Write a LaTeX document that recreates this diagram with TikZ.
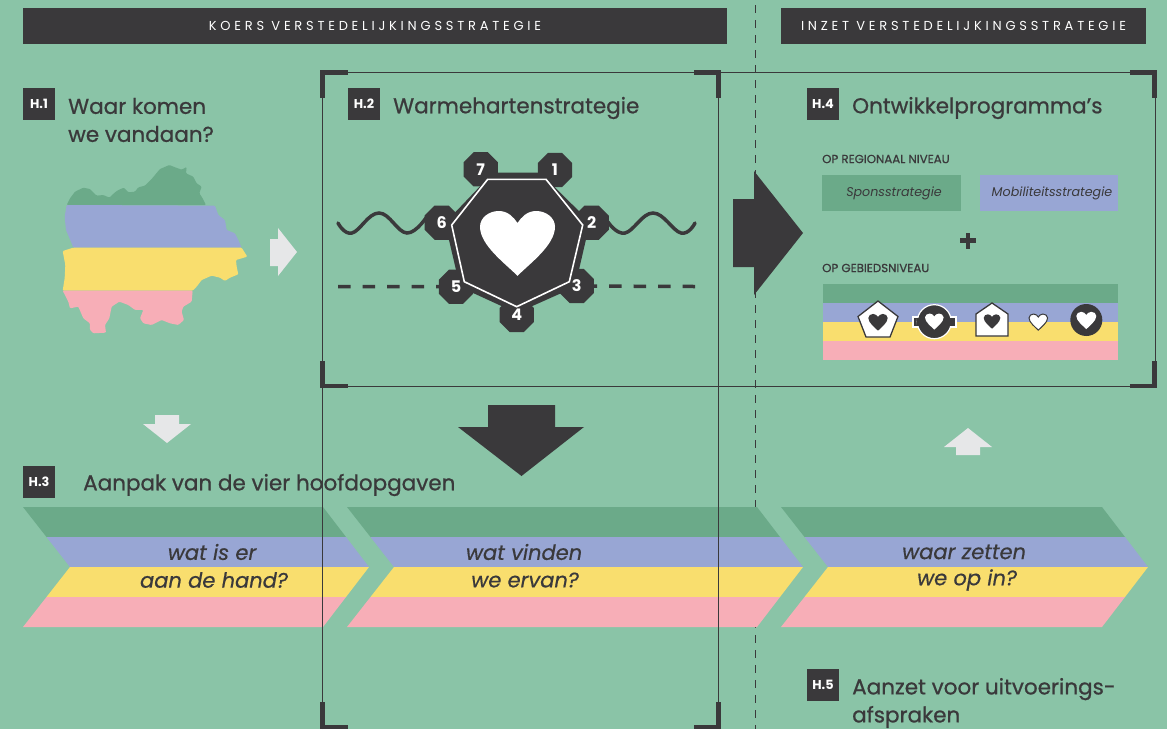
\documentclass[tikz,border=0pt]{standalone}
\usepackage{fontspec}
\setmainfont{Poppins}
\newfontfamily\spaced[LetterSpace=29]{Poppins}
\newfontfamily\medf[UprightFeatures={FakeBold=0.8},ItalicFeatures={FakeBold=0.5}]{Poppins}
\usetikzlibrary{shapes.geometric}
\definecolor{bgc}{HTML}{8AC4A7}
\definecolor{ink}{HTML}{3A393B}
\definecolor{bandg}{HTML}{6BAA89}
\definecolor{bandb}{HTML}{98A6D4}
\definecolor{bandy}{HTML}{F9DE6E}
\definecolor{bandp}{HTML}{F7AEB7}
\definecolor{pale}{HTML}{E6E7E8}
\tikzset{
  barbox/.style={fill=ink,text=white,minimum height=36pt,inner sep=0pt,font=\fontsize{13}{15}\selectfont\spaced},
  badge/.style={fill=ink,text=white,minimum width=32pt,minimum height=32pt,inner sep=0pt,font=\fontsize{12.8}{14}\selectfont\bfseries},
  heading/.style={text=ink,anchor=west,inner sep=0pt,align=left,font=\fontsize{21.5}{28}\selectfont\medf},
  chevlabel/.style={text=ink,inner sep=0pt,font=\fontsize{21}{24}\selectfont\medf\itshape},
  sublabel/.style={text=ink,anchor=west,inner sep=0pt,font=\fontsize{11.8}{13}\selectfont\medf},
  stratbox/.style={minimum width=138pt,minimum height=36pt,inner sep=0pt,text=ink,font=\fontsize{12.7}{14}\selectfont\itshape},
  gearnum/.style={regular polygon,regular polygon sides=8,fill=ink,text=white,minimum size=37pt,inner sep=0pt,font=\fontsize{16}{18}\selectfont\bfseries},
  frameline/.style={draw=ink,line width=1pt},
  cornermark/.style={draw=ink,line width=4.5pt,line cap=butt,miter limit=10},
  bigwave/.style={draw=ink,line width=3.5pt,line cap=round},
  bigdash/.style={draw=ink,line width=3.5pt,dash pattern=on 12.5pt off 12pt},
}
\newcommand{\heartat}[4]{%
  \path[#4,shift={(#1,#2)},x=#3pt,y=-#3pt]
    (0,1.41) .. controls (-0.3,1.1) and (-1,0.6) .. (-1,0.1)
    .. controls (-1,-0.15) and (-0.75,-0.32) .. (-0.5,-0.32)
    .. controls (-0.25,-0.32) and (-0.1,-0.15) .. (0,0)
    .. controls (0.1,-0.15) and (0.25,-0.32) .. (0.5,-0.32)
    .. controls (0.75,-0.32) and (1,-0.15) .. (1,0.1)
    .. controls (1,0.6) and (0.3,1.1) .. (0,1.41) -- cycle;}
\newcommand{\chevron}[4]{% left, notch, top right, tip
  \fill[bandg] (#1,507) -- (#3,507) -- ({#3+(#4-#3)/2},537) -- ({#1+(#2-#1)/2},537) -- cycle;
  \fill[bandb] ({#1+(#2-#1)/2},537) -- ({#3+(#4-#3)/2},537) -- (#4,567) -- (#2,567) -- cycle;
  \fill[bandy] (#2,567) -- (#4,567) -- ({#3+(#4-#3)/2},597) -- ({#1+(#2-#1)/2},597) -- cycle;
  \fill[bandp] ({#1+(#2-#1)/2},597) -- ({#3+(#4-#3)/2},597) -- (#3,627) -- (#1,627) -- cycle;}
\begin{document}
\begin{tikzpicture}[x=1pt,y=-1pt]
\path[use as bounding box,fill=bgc] (0,0) rectangle (1167,729);
% divider
\draw[ink,line width=1.8pt,dash pattern=on 8pt off 7pt] (755.5,5) -- (755.5,729);
% header bars
\node[barbox,minimum width=704pt] (barL) at (375,26) {KOERS VERSTEDELIJKINGSSTRATEGIE};
\node[barbox,minimum width=365pt] (barR) at (963.5,26) {INZET VERSTEDELIJKINGSSTRATEGIE};
% chevrons
\chevron{23}{70}{323}{369}
\chevron{347}{394}{757}{803}
\chevron{781}{828}{1102}{1148}
\node[chevlabel] (c1a) at (212,552) {wat is er};
\node[chevlabel] (c1b) at (214,580) {aan de hand?};
\node[chevlabel] (c2a) at (524,552) {wat vinden};
\node[chevlabel] (c2b) at (525,580) {we ervan?};
\node[chevlabel] (c3a) at (964,552) {waar zetten};
\node[chevlabel] (c3b) at (967,580) {we op in?};
% frame
\draw[frameline] (322,729) -- (322,72) -- (1155,72) -- (1155,386) -- (322,386);
\draw[frameline] (718,72) -- (718,729);
\foreach \cx/\cy/\sx/\sy in {322.5/72.5/1/1,718.5/72.5/-1/1,1154.5/72.5/-1/1,322.5/386/1/-1,1154.5/386/-1/-1,322.5/727/1/-1,718.5/727/-1/-1}{
  \draw[cornermark] ({\cx},{\cy+\sy*25}) -- (\cx,\cy) -- ({\cx+\sx*25},\cy);
}
% badges and headings
\node[badge] (b1) at (39,104) {H.1};
\node[badge] (b2) at (364,104) {H.2};
\node[badge] (b3) at (39,482) {H.3};
\node[badge] (b4) at (823,104) {H.4};
\node[badge] (b5) at (823,685) {H.5};
\node[heading] (h1) at (68,120) {Waar komen\\we vandaan?};
\node[heading] (h2) at (393,108) {Warmehartenstrategie};
\node[heading] (h3) at (83,485) {Aanpak van de vier hoofdopgaven};
\node[heading] (h4) at (852,108) {Ontwikkelprogramma’s};
\node[heading] (h5) at (852,703) {Aanzet voor uitvoerings-\\afspraken};
% map
\begin{scope}[shift={(50,155)},x=0.3333pt,y=-0.3333pt,rounded corners=1pt]
\fill[bandg] (50,150) -- (60,130) -- (75,110) -- (100,98) -- (120,102) -- (140,122) -- (160,120) -- (178,128) -- (195,112) -- (205,105) -- (222,98) -- (235,112) -- (255,110) -- (265,97) -- (285,92) -- (305,72) -- (330,42) -- (358,30) -- (378,38) -- (395,44) -- (410,36) -- (408,55) -- (430,65) -- (440,85) -- (455,95) -- (448,115) -- (458,130) -- (468,150) -- cycle;
\fill[bandb] (50,150) -- (495,152) -- (505,180) -- (525,195) -- (530,225) -- (555,235) -- (565,255) -- (575,278) -- (70,278) -- (62,258) -- (48,225) -- (44,185) -- cycle;
\fill[bandy] (38,288) -- (70,278) -- (575,278) -- (592,305) -- (558,315) -- (560,335) -- (565,358) -- (540,368) -- (525,378) -- (510,368) -- (485,362) -- (455,375) -- (440,395) -- (428,407) -- (38,407) -- (44,370) -- (46,330) -- cycle;
\fill[bandp] (38,407) -- (428,407) -- (425,440) -- (400,455) -- (395,470) -- (402,495) -- (385,510) -- (360,505) -- (335,495) -- (305,510) -- (280,505) -- (270,490) -- (280,465) -- (255,465) -- (235,450) -- (208,440) -- (185,455) -- (178,490) -- (165,510) -- (168,533) -- (130,535) -- (120,525) -- (120,505) -- (100,490) -- (85,455) -- (60,460) -- (55,440) -- cycle;
\end{scope}
% pale arrows
\fill[pale] (270,239) -- (278,239) -- (278,228) -- (297,252) -- (278,276) -- (278,266) -- (270,266) -- cycle;
\fill[pale] (155,415) -- (179,415) -- (179,424) -- (191,424) -- (167,443) -- (143,424) -- (155,424) -- cycle;
\fill[pale] (956,455) -- (980,455) -- (980,447) -- (992,447) -- (968,428) -- (944,447) -- (956,447) -- cycle;
% big arrows
\fill[ink] (733,199) -- (754,199) -- (754,171) -- (803,233) -- (754,295) -- (754,267) -- (733,267) -- cycle;
\fill[ink] (488,405) -- (555,405) -- (555,427) -- (584,427) -- (521.5,476) -- (458,427) -- (488,427) -- cycle;
% gear
\coordinate (g3) at (576.7,286);
\coordinate (g5) at (456,286.7);
\coordinate (waveL) at (338,223);
\coordinate (waveR) at (695,223);
\coordinate (dashL) at (338,286.5);
\coordinate (dashR) at (695,286.5);
\draw[bigwave] plot[smooth,tension=0.7] coordinates {(waveL) (352,233) (379,213) (407,233) (428,215)};
\draw[bigwave] plot[smooth,tension=0.7] coordinates {(608,222) (625,233) (653,213) (681,233) (waveR)};
\draw[bigdash] (dashL) -- (g5);
\draw[bigdash] (dashR) -- (g3);
\fill[ink] (493,172.7) -- (540,172.7) -- (590,222) -- (575,287) -- (516.7,313) -- (460,287) -- (445,223) -- cycle;
\node[gearnum] (n7) at (480.7,169.3) {7};
\node[gearnum] (n1) at (555,170) {1};
\node[gearnum] (n2) at (591.7,222.7) {2};
\node[gearnum] (n3) at (g3) {3};
\node[gearnum] (n4) at (516.7,315) {4};
\node[gearnum] (n5) at (g5) {5};
\node[gearnum] (n6) at (441.7,222.7) {6};
\draw[white,line width=1.6pt] (487.7,179.3) -- (546,179.3) -- (582.7,225) -- (569.3,281.7) -- (516.7,306.7) -- (464.3,281.7) -- (451.7,225) -- cycle;
\heartat{517.5}{223}{37.5}{fill=white}
% H.4 panel
\node[sublabel] (s1) at (822,159) {OP REGIONAAL NIVEAU};
\node[stratbox,fill=bandg,minimum width=139pt] (sp) at (891.5,193) {\hspace*{5pt}Sponsstrategie};
\node[stratbox,fill=bandb] (mb) at (1049,193) {\hspace*{6pt}Mobiliteitsstrategie};
\fill[ink] (965.8,232.5) rectangle (970.2,248.5);
\fill[ink] (960,238.3) rectangle (976,242.7);
\node[sublabel] (s2) at (822,268) {OP GEBIEDSNIVEAU};
\fill[bandg] (823,284) rectangle (1118,303);
\fill[bandb] (823,303) rectangle (1118,322);
\fill[bandy] (823,322) rectangle (1118,341);
\fill[bandp] (823,341) rectangle (1118,360);
% icons
\draw[fill=white,draw=ink,line width=1.3pt] (878,301) -- (898,316.5) -- (890,337) -- (866,337) -- (858,316.5) -- cycle;
\heartat{878}{317}{9.7}{fill=ink}
\draw[fill=ink,draw=white,line width=1.2pt] (913,317) rectangle (956,327);
\draw[fill=ink,draw=white,line width=1.2pt] (934.3,321.7) circle (17);
\fill[ink] (917,318) rectangle (925,326);
\fill[ink] (944,318) rectangle (952,326);
\heartat{934.3}{316.5}{9.3}{fill=white}
\draw[fill=white,draw=ink,line width=1.3pt] (992,303) -- (1008,314) -- (1008,336) -- (976,336) -- (976,314) -- cycle;
\heartat{992}{317}{8.3}{fill=ink}
\heartat{1038.3}{317}{9.3}{fill=white,draw=ink,line width=1pt}
\fill[ink] (1086.3,320) circle (16);
\heartat{1086.3}{315}{10}{fill=white}
\end{tikzpicture}
\end{document}
